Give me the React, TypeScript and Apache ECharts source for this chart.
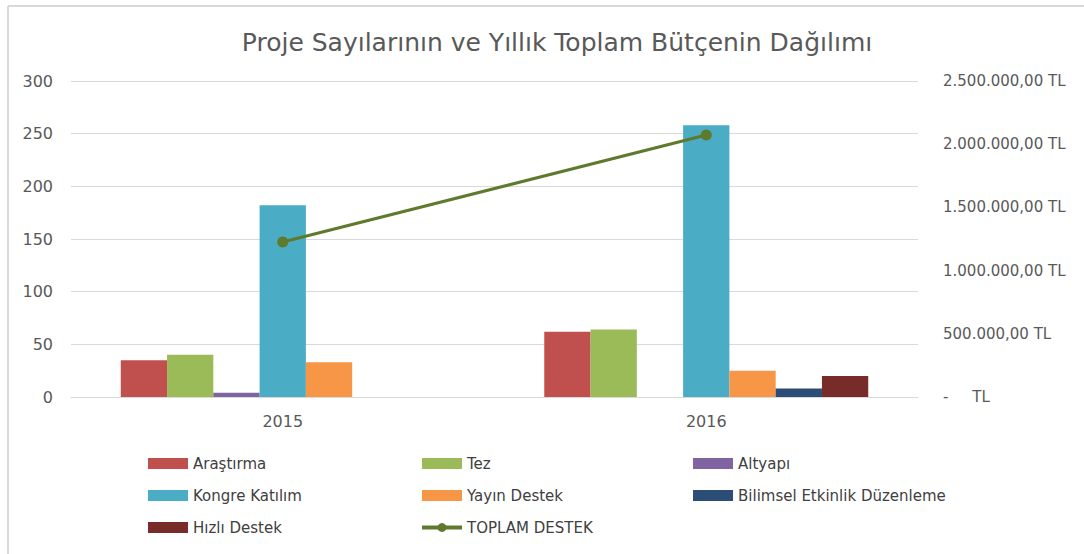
import React, { useEffect, useRef } from "react";
import * as echarts from "echarts";

const categories = ["2015", "2016"];
const arastirma = [35, 62];
const tez = [40, 64];
const altyapi = [4, null];
const kongre = [182, 258];
const yayin = [33, 25];
const bilimsel = [null, 8];
const hizli = [null, 20];
const toplam = [1226000, 2073000];

const leftTicks = { min: 0, max: 300, interval: 50 };
const rightTicks = { min: 0, max: 2500000, interval: 500000 };

const FONT = "DejaVu Sans";

function fmtTL(v: number): string {
  if (v === 0) return "-     TL";
  const s = Math.round(v).toString().replace(/\B(?=(\d{3})+(?!\d))/g, ".");
  return s + ",00 TL";
}

export default function App() {
  const ref = useRef<HTMLDivElement>(null);
  useEffect(() => {
    document.body.style.margin = "0";
    if (!ref.current) return;
    const chart = echarts.init(ref.current, null, { renderer: "svg" });
    const barSeries = [
      { name: "Araştırma", data: arastirma, color: "#C0504D" },
      { name: "Tez", data: tez, color: "#9BBB59" },
      { name: "Altyapı", data: altyapi, color: "#8064A2" },
      { name: "Kongre Katılım", data: kongre, color: "#4BACC6" },
      { name: "Yayın Destek", data: yayin, color: "#F79646" },
      { name: "Bilimsel Etkinlik Düzenleme", data: bilimsel, color: "#2C4D75" },
      { name: "Hızlı Destek", data: hizli, color: "#772C2A" },
    ].map((s) => ({
      type: "bar",
      name: s.name,
      data: s.data,
      barGap: "0%",
      barCategoryGap: "23.5%",
      itemStyle: { color: s.color },
      yAxisIndex: 0,
    }));
    const lineColor = "#5E7A2C";
    const legendText = { fontFamily: FONT, fontSize: 15, color: "#404040" };
    const legendCommon = {
      orient: "vertical",
      top: 451,
      height: 110,
      itemWidth: 40,
      itemHeight: 11,
      itemGap: 17,
      textStyle: legendText,
    };
    const r = (name: string) => ({ name, icon: "rect" });
    chart.setOption({
      animation: false,
      title: {
        text: "Proje Sayılarının ve Yıllık Toplam Bütçenin Dağılımı",
        left: 552,
        textAlign: "center",
        top: 25,
        textStyle: { fontFamily: FONT, fontSize: 25, fontWeight: "normal", color: "#595959" },
      },
      grid: { left: 71, right: 166, top: 81, bottom: 157, containLabel: false },
      legend: [
        { ...legendCommon, left: 143, data: [r("Araştırma"), r("Kongre Katılım"), r("Hızlı Destek")] },
        {
          ...legendCommon,
          left: 415,
          data: [r("Tez"), r("Yayın Destek"), { name: "TOPLAM DESTEK", lineStyle: { width: 4 } }],
        },
        { ...legendCommon, left: 688, data: [r("Altyapı"), r("Bilimsel Etkinlik Düzenleme")] },
      ],
      xAxis: {
        type: "category",
        data: categories,
        axisLine: { show: true, lineStyle: { color: "#d9d9d9" } },
        axisTick: { show: false },
        axisLabel: { fontFamily: FONT, fontSize: 16, color: "#595959", margin: 16 },
      },
      yAxis: [
        {
          type: "value",
          ...leftTicks,
          axisLine: { show: false },
          axisTick: { show: false },
          splitLine: { lineStyle: { color: "#d9d9d9" } },
          axisLabel: { fontFamily: FONT, fontSize: 16, color: "#595959", margin: 18 },
        },
        {
          type: "value",
          ...rightTicks,
          position: "right",
          axisLine: { show: false },
          axisTick: { show: false },
          splitLine: { show: false },
          axisLabel: {
            fontFamily: FONT,
            fontSize: 15,
            color: "#595959",
            margin: 25,
            formatter: (v: number) => fmtTL(v),
          },
        },
      ],
      series: [
        ...barSeries,
        {
          type: "line",
          name: "TOPLAM DESTEK",
          data: toplam,
          yAxisIndex: 1,
          symbol: "circle",
          symbolSize: 11,
          lineStyle: { color: lineColor, width: 3 },
          itemStyle: { color: lineColor },
          z: 5,
        },
      ],
      graphic: [
        {
          type: "line",
          shape: { x1: 8, y1: 6, x2: 1084, y2: 6 },
          style: { stroke: "#d9d9d9", lineWidth: 2 },
          silent: true,
        },
        {
          type: "line",
          shape: { x1: 8, y1: 6, x2: 8, y2: 554 },
          style: { stroke: "#d9d9d9", lineWidth: 2 },
          silent: true,
        },
      ],
    });
    return () => chart.dispose();
  }, []);
  return <div ref={ref} style={{ width: 1084, height: 554 }} />;
}
